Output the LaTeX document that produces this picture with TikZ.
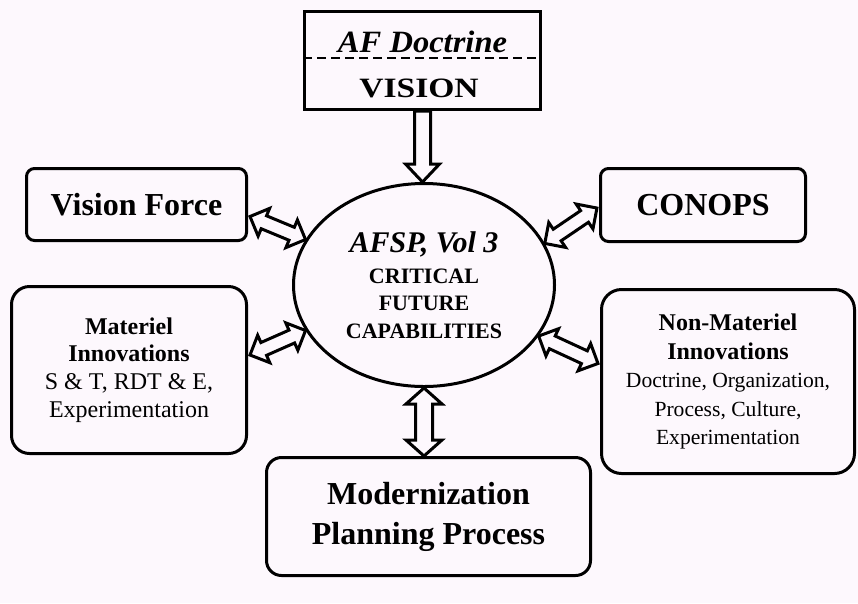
\documentclass[tikz,border=0pt]{standalone}
\usepackage{fontspec}
\setmainfont{Liberation Serif}
\usetikzlibrary{shapes.geometric,calc}

\definecolor{bgpink}{RGB}{253,248,253}

% hollow block arrows: from, to, half shaft, half head, head length
\newcommand{\dblarrow}[5]{%
	\draw[arrowline] let \p1=(#1), \p2=(#2), \n1={atan2(\y2-\y1,\x2-\x1)}, \n2={veclen(\x2-\x1,\y2-\y1)} in
		[shift={(\p1)}, rotate=\n1] (0,0) -- (#5,#4) -- (#5,#3) -- ({\n2-#5},#3) -- ({\n2-#5},#4) -- ({\n2},0)
		-- ({\n2-#5},-#4) -- ({\n2-#5},-#3) -- (#5,-#3) -- (#5,-#4) -- cycle;}
\newcommand{\sglarrow}[5]{%
	\draw[arrowline] let \p1=(#1), \p2=(#2), \n1={atan2(\y2-\y1,\x2-\x1)}, \n2={veclen(\x2-\x1,\y2-\y1)} in
		[shift={(\p1)}, rotate=\n1] (0,-#3) -- (0,#3) -- ({\n2-#5},#3) -- ({\n2-#5},#4) -- ({\n2},0)
		-- ({\n2-#5},-#4) -- ({\n2-#5},-#3) -- cycle;}

\begin{document}
\begin{tikzpicture}[x=1pt, y=-1pt,
	roundbox/.style={draw, line width=3pt, align=center, inner sep=0pt},
	arrowline/.style={line width=3pt}]
	\fill[bgpink] (0,0) rectangle (858,603);
	\useasboundingbox (0,0) rectangle (858,603);
	
	% top box
	\node[draw, line width=3pt, minimum width=236pt, minimum height=98pt, inner sep=0pt] (top) at (422.5,60.5) {};
	\node[anchor=base] (afdoc) at (422.5,52) {\scalebox{1.05}[1]{\fontsize{31}{32}\selectfont\bfseries\itshape AF Doctrine}};
	\node[anchor=base] (vision) at (419,97) {\scalebox{1.2}[1]{\fontsize{28}{29}\selectfont\bfseries VISION}};
	\draw[dash pattern=on 9pt off 5pt, line width=2.5pt] ($(top.north west)!0.475!(top.south west)$) -- ($(top.north east)!0.475!(top.south east)$);
	
	% centre
	\node[ellipse, draw, line width=3pt, minimum width=261pt, minimum height=203pt, inner sep=0pt, align=center,
		font=\fontsize{22}{27.5}\selectfont\bfseries] (core) at (424,285)
		{{\fontsize{30}{30}\selectfont\itshape AFSP, Vol 3}\\[3pt]CRITICAL\\FUTURE\\CAPABILITIES};
	
	% boxes
	\node[roundbox, rounded corners=8pt, minimum width=220pt, minimum height=72pt,
		font=\fontsize{32}{38}\selectfont\bfseries] (vforce) at (136.5,204.5) {Vision Force};
	\node[roundbox, rounded corners=8pt, minimum width=205pt, minimum height=73pt,
		font=\fontsize{32}{38}\selectfont\bfseries] (conops) at (703,205) {CONOPS};
	\node[roundbox, rounded corners=18pt, minimum width=235pt, minimum height=167pt,
		font=\fontsize{24}{27.7}\selectfont] (mat) at (129,370)
		{\textbf{Materiel}\\\textbf{Innovations}\\S \& T, RDT \& E,\\Experimentation};
	\node[roundbox, rounded corners=20pt, minimum width=253pt, minimum height=184pt,
		font=\fontsize{21.6}{28.5}\selectfont] (nonmat) at (728,381.5)
		{{\fontsize{24}{28.5}\selectfont\bfseries Non-Materiel}\\{\fontsize{24}{28.5}\selectfont\bfseries Innovations}\\Doctrine, Organization,\\Process, Culture,\\Experimentation};
	\node[roundbox, rounded corners=15pt, minimum width=324pt, minimum height=118pt,
		font=\fontsize{32}{40}\selectfont\bfseries] (mpp) at (428.5,516.5) {Modernization\\Planning Process};
	
	% arrows
	\sglarrow{top.south}{top.south |- core.north}{8}{17}{18}
	\dblarrow{core.south}{core.south |- mpp.north}{8.5}{18}{16}
	\dblarrow{$(vforce.east)+(2,12)$}{core.159}{7}{15}{15}
	\dblarrow{core.19}{$(conops.west)+(-2,3)$}{7}{15}{15}
	\dblarrow{$(mat.east)+(2,-15)$}{core.201}{7}{15}{15}
	\dblarrow{core.336}{$(nonmat.west)+(-2,-18)$}{7}{15}{15}
\end{tikzpicture}
\end{document}
